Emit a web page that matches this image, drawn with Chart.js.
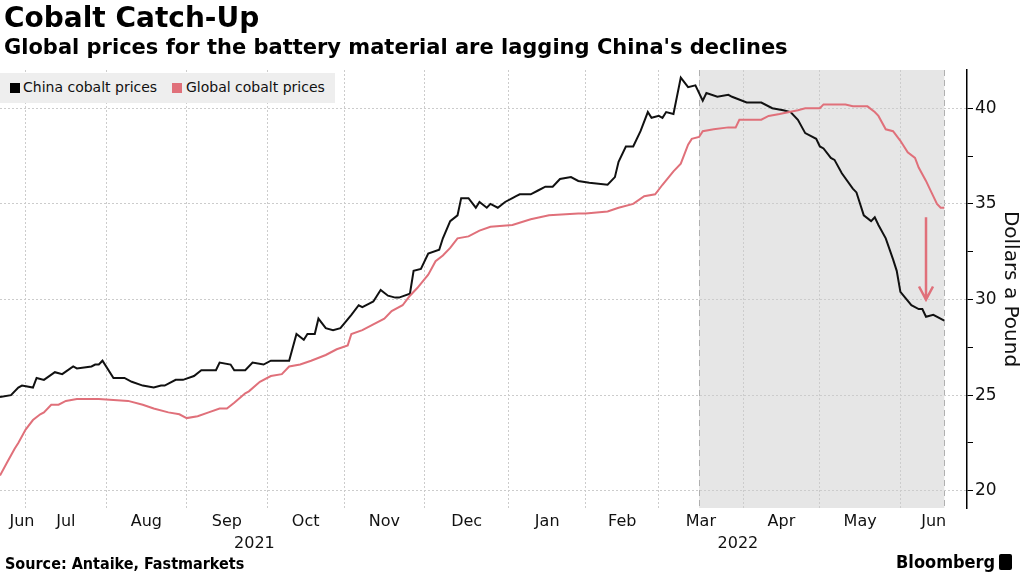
<!DOCTYPE html>
<html lang="en">
<head>
<meta charset="UTF-8">
<title>Cobalt Catch-Up</title>
<style>
    body { margin: 0; background: #fff; font-family: "DejaVu Sans", sans-serif; }
    .page { position: relative; width: 1024px; height: 576px; overflow: hidden; }
    #chart { position: absolute; left: 0; top: 0; }
    .title { position: absolute; left: 4px; top: 1px; font-size: 28px; font-weight: bold; color: #000; white-space: nowrap; }
    .subtitle { position: absolute; left: 4px; top: 35px; font-size: 21px; font-weight: bold; color: #000; white-space: nowrap; }
    .legend { position: absolute; left: 0; top: 73px; width: 335px; height: 30px; background: #eeeeee; font-size: 14px; color: #111; }
    .legend span { position: absolute; top: 6px; white-space: nowrap; }
    .legend i { position: absolute; top: 10px; width: 10px; height: 10px; }
    .source { position: absolute; left: 5px; top: 554px; font-family: "DejaVu Sans Condensed", sans-serif; font-size: 16px; font-weight: bold; }
    .brand { position: absolute; left: 896px; top: 551px; font-family: "DejaVu Sans Condensed", sans-serif; font-size: 18px; font-weight: bold; }
    .brand b { display: inline-block; width: 13px; height: 16px; background: #000; vertical-align: -2px; margin-left: 4px; border-radius: 2px; }
</style>
</head>
<body>
<div class="page">
    <canvas id="chart" width="1024" height="576"></canvas>
    <div class="title">Cobalt Catch-Up</div>
    <div class="subtitle">Global prices for the battery material are lagging China's declines</div>
    <div class="legend">
        <i style="left:10px;background:#000"></i><span style="left:23px">China cobalt prices</span>
        <i style="left:172px;background:#e0707a"></i><span style="left:186px">Global cobalt prices</span>
    </div>
    <div class="source">Source: Antaike, Fastmarkets</div>
    <div class="brand">Bloomberg<b></b></div>
</div>

<script src="https://cdn.jsdelivr.net/npm/chart.js"></script>
<script>
    // weekday axis, like the original (weekends collapsed)
    const axisStart = '2021-06-22';
    const axisEnd = '2022-06-27';

    const chinaDates = ['2021-06-22','2021-06-25','2021-06-29','2021-06-30','2021-07-05','2021-07-06','2021-07-08','2021-07-13','2021-07-15','2021-07-20',
        '2021-07-21','2021-07-27','2021-07-28','2021-07-29','2021-07-30','2021-08-04','2021-08-09','2021-08-11','2021-08-16','2021-08-19',
        '2021-08-23','2021-08-24','2021-08-27','2021-08-31','2021-09-03','2021-09-07','2021-09-13','2021-09-14','2021-09-17','2021-09-20',
        '2021-09-23','2021-09-27','2021-09-30','2021-10-04','2021-10-11','2021-10-13','2021-10-15','2021-10-18','2021-10-20','2021-10-21',
        '2021-10-25','2021-10-27','2021-10-29','2021-11-03','2021-11-05','2021-11-08','2021-11-10','2021-11-11','2021-11-12','2021-11-15',
        '2021-11-17','2021-11-19','2021-11-22','2021-11-25','2021-11-26','2021-11-30','2021-12-02','2021-12-07','2021-12-08','2021-12-10',
        '2021-12-14','2021-12-15','2021-12-17','2021-12-21','2021-12-22','2021-12-24','2021-12-27','2021-12-29','2021-12-31','2022-01-04',
        '2022-01-05','2022-01-06','2022-01-11','2022-01-13','2022-01-17','2022-01-19','2022-01-21','2022-01-26','2022-01-28','2022-02-02',
        '2022-02-09','2022-02-11','2022-02-14','2022-02-16','2022-02-18','2022-02-22','2022-02-24','2022-02-25','2022-03-01','2022-03-02',
        '2022-03-03','2022-03-07','2022-03-09','2022-03-11','2022-03-15','2022-03-17','2022-03-18','2022-03-23','2022-03-28','2022-03-29',
        '2022-04-04','2022-04-08','2022-04-13','2022-04-18','2022-04-20','2022-04-22','2022-04-26','2022-04-29','2022-05-02','2022-05-03',
        '2022-05-05','2022-05-06','2022-05-10','2022-05-13','2022-05-16','2022-05-18','2022-05-20','2022-05-23','2022-05-24','2022-05-26',
        '2022-05-30','2022-05-31','2022-06-01','2022-06-06','2022-06-08','2022-06-09','2022-06-10','2022-06-14','2022-06-17'];
    const chinaValues = [24.9,25.0,25.4,25.5,25.4,25.9,25.8,26.2,26.1,26.5,
        26.4,26.5,26.6,26.6,26.8,25.9,25.9,25.7,25.5,25.4,
        25.5,25.5,25.8,25.8,26.0,26.3,26.3,26.7,26.6,26.3,
        26.3,26.7,26.6,26.8,26.8,28.2,27.9,28.2,28.2,29.0,
        28.5,28.4,28.5,29.2,29.7,29.6,29.8,29.9,30.2,30.5,
        30.2,30.1,30.1,30.3,31.5,31.6,32.4,32.6,33.2,34.1,
        34.4,35.3,35.3,34.8,35.1,34.8,35.0,34.8,35.1,35.3,
        35.4,35.5,35.5,35.7,35.9,35.9,36.3,36.4,36.2,36.1,
        36.0,36.4,37.2,38.0,38.0,38.8,39.8,39.5,39.6,39.5,
        39.8,39.7,41.6,41.1,41.2,40.4,40.8,40.6,40.7,40.6,
        40.3,40.3,40.0,39.9,39.8,39.4,38.7,38.4,38.0,37.9,
        37.4,37.3,36.6,35.8,35.6,34.4,34.1,34.3,33.9,33.2,
        32.1,31.5,30.4,29.7,29.5,29.5,29.1,29.2,28.9];

    const globalDates = ['2021-06-22','2021-06-24','2021-06-28','2021-06-29','2021-07-01','2021-07-05','2021-07-07','2021-07-08','2021-07-12','2021-07-14',
        '2021-07-16','2021-07-21','2021-07-29','2021-08-10','2021-08-16','2021-08-19','2021-08-25','2021-08-30','2021-09-01','2021-09-06',
        '2021-09-09','2021-09-14','2021-09-16','2021-09-20','2021-09-23','2021-09-24','2021-09-29','2021-10-04','2021-10-07','2021-10-11',
        '2021-10-14','2021-10-19','2021-10-25','2021-10-28','2021-11-02','2021-11-03','2021-11-08','2021-11-11','2021-11-16','2021-11-18',
        '2021-11-23','2021-11-25','2021-11-29','2021-12-02','2021-12-06','2021-12-08','2021-12-10','2021-12-14','2021-12-17','2021-12-22',
        '2021-12-27','2022-01-04','2022-01-11','2022-01-18','2022-01-28','2022-02-01','2022-02-09','2022-02-14','2022-02-18','2022-02-23',
        '2022-02-28','2022-03-02','2022-03-07','2022-03-09','2022-03-11','2022-03-14','2022-03-16','2022-03-17','2022-03-22','2022-03-28',
        '2022-03-30','2022-03-31','2022-04-08','2022-04-12','2022-04-15','2022-04-22','2022-04-26','2022-05-02','2022-05-03','2022-05-11',
        '2022-05-13','2022-05-19','2022-05-23','2022-05-24','2022-05-26','2022-05-30','2022-06-01','2022-06-03','2022-06-07','2022-06-08',
        '2022-06-10','2022-06-13','2022-06-15','2022-06-16','2022-06-17'];
    const globalValues = [20.8,21.5,22.2,22.5,23.2,23.7,24.0,24.1,24.5,24.5,
        24.7,24.8,24.8,24.7,24.5,24.3,24.1,24.0,23.8,23.9,
        24.1,24.3,24.3,24.6,25.1,25.2,25.7,26.0,26.1,26.5,
        26.6,26.8,27.1,27.4,27.6,28.2,28.4,28.7,29.0,29.4,
        29.7,30.2,30.6,31.3,32.0,32.3,32.7,33.2,33.3,33.6,
        33.8,33.9,34.2,34.4,34.5,34.5,34.6,34.8,35.0,35.4,
        35.5,36.0,36.7,37.1,38.1,38.4,38.5,38.8,38.9,39.0,
        39.0,39.4,39.4,39.6,39.7,39.9,40.0,40.0,40.2,40.2,
        40.1,40.1,39.8,39.6,38.9,38.8,38.3,37.7,37.4,36.9,
        36.2,35.8,35.0,34.8,34.8];

    const monthStarts = ['2021-07-01','2021-08-01','2021-09-01','2021-10-01','2021-11-01','2021-12-01',
        '2022-01-01','2022-02-01','2022-03-01','2022-04-01','2022-05-01','2022-06-01'];
    const monthLabels = ['Jun','Jul','Aug','Sep','Oct','Nov','Dec','Jan','Feb','Mar','Apr','May','Jun'];
    const yearStarts = ['2022-01-01'];
    const yearLabels = ['2021','2022'];
    const yTicks = [20, 22.5, 25, 27.5, 30, 32.5, 35, 37.5, 40];

    // shaded period and the red arrow
    const shadeFrom = '2022-03-16';
    const shadeTo = '2022-06-17';
    const arrowDate = '2022-06-10';
    const arrowFrom = 34.3;
    const arrowTo = 30.0;

    const pink = '#e0707a';

    function bizIndex(s) {
        const end = new Date(s + 'T00:00:00Z');
        let n = 0;
        for (let t = new Date(axisStart + 'T00:00:00Z'); t < end; t.setUTCDate(t.getUTCDate() + 1)) {
            const wd = t.getUTCDay();
            if (wd !== 0 && wd !== 6) n++;
        }
        return n;
    }

    const xMin = 0;
    const xMax = bizIndex(axisEnd) + 0.2;
    const gridPos = monthStarts.map(bizIndex);

    // month labels sit in the middle of each month span
    const bounds = [xMin].concat(gridPos, [xMax]);
    const monthPos = monthLabels.map((m, i) => (bounds[i] + bounds[i + 1]) / 2);
    monthPos[0] = Math.max(monthPos[0], 6); // keep first label inside
    const yBounds = [xMin].concat(yearStarts.map(bizIndex), [xMax]);
    const yearPos = yearLabels.map((y, i) => (yBounds[i] + yBounds[i + 1]) / 2);

    const toPoints = (dates, vals) => dates.map((d, i) => ({x: bizIndex(d), y: vals[i]}));

    const labelFont = {family: 'DejaVu Sans', size: 16};

    const shadePlugin = {
        id: 'shade',
        beforeDraw(chart) {
            const {ctx, chartArea, scales} = chart;
            const x1 = scales.x.getPixelForValue(bizIndex(shadeFrom));
            const x2 = scales.x.getPixelForValue(bizIndex(shadeTo));
            ctx.save();
            ctx.fillStyle = '#e6e6e6';
            ctx.fillRect(x1, chartArea.top, x2 - x1, chartArea.bottom - chartArea.top);
            ctx.strokeStyle = '#b0b0b0';
            ctx.lineWidth = 1;
            ctx.setLineDash([6, 4]);
            [x1, x2].forEach(x => {
                ctx.beginPath();
                ctx.moveTo(Math.round(x) + 0.5, chartArea.top);
                ctx.lineTo(Math.round(x) + 0.5, chartArea.bottom);
                ctx.stroke();
            });
            ctx.restore();
        },
        afterDatasetsDraw(chart) {
            const {ctx, scales} = chart;
            const x = scales.x.getPixelForValue(bizIndex(arrowDate));
            const y1 = scales.y.getPixelForValue(arrowFrom);
            const y2 = scales.y.getPixelForValue(arrowTo);
            ctx.save();
            ctx.strokeStyle = pink;
            ctx.lineWidth = 2.5;
            ctx.beginPath();
            ctx.moveTo(x, y1);
            ctx.lineTo(x, y2);
            ctx.moveTo(x - 7, y2 - 13);
            ctx.lineTo(x, y2);
            ctx.lineTo(x + 7, y2 - 13);
            ctx.stroke();
            ctx.restore();
        }
    };

    new Chart(document.getElementById('chart'), {
        type: 'line',
        data: {
            datasets: [{
                label: 'Global cobalt prices',
                data: toPoints(globalDates, globalValues),
                borderColor: pink,
                borderWidth: 2,
                pointRadius: 0
            }, {
                label: 'China cobalt prices',
                data: toPoints(chinaDates, chinaValues),
                borderColor: '#111',
                borderWidth: 2,
                pointRadius: 0
            }]
        },
        options: {
            responsive: false,
            animation: false,
            layout: {padding: {top: 70, bottom: 20, left: 0, right: 0}},
            plugins: {legend: {display: false}, tooltip: {enabled: false}},
            scales: {
                x: {
                    type: 'linear', min: xMin, max: xMax, weight: 0,
                    afterBuildTicks: s => { s.ticks = gridPos.map(v => ({value: v})); },
                    afterFit: s => { s.height = 0; },
                    ticks: {display: false},
                    grid: {color: '#cccccc', drawTicks: false},
                    border: {display: false, dash: [2, 2]}
                },
                xm: {
                    type: 'linear', position: 'bottom', min: xMin, max: xMax, weight: 1,
                    afterBuildTicks: s => { s.ticks = monthPos.map(v => ({value: v})); },
                    afterFit: s => { s.height = 24; },
                    ticks: {autoSkip: false, maxRotation: 0, padding: 4, color: '#111', font: labelFont,
                        callback: (v, i) => monthLabels[i]},
                    grid: {display: false, drawTicks: false},
                    border: {display: false}
                },
                xy: {
                    type: 'linear', position: 'bottom', min: xMin, max: xMax, weight: 2,
                    afterBuildTicks: s => { s.ticks = yearPos.map(v => ({value: v})); },
                    afterFit: s => { s.height = 24; },
                    ticks: {autoSkip: false, maxRotation: 0, padding: 2, color: '#111', font: labelFont,
                        callback: (v, i) => yearLabels[i]},
                    grid: {display: false, drawTicks: false},
                    border: {display: false}
                },
                y: {
                    position: 'right', min: 19.1, max: 42,
                    afterBuildTicks: s => { s.ticks = yTicks.map(v => ({value: v})); },
                    afterFit: s => { s.width = 57; },
                    ticks: {autoSkip: false, padding: 2, color: '#111', font: {family: 'DejaVu Sans', size: 17},
                        callback: v => (v % 5 === 0 ? String(v) : '')},
                    grid: {
                        color: c => (c.tick && c.tick.value % 5 === 0 ? '#cccccc' : 'rgba(0,0,0,0)'),
                        tickColor: '#000', tickLength: 6
                    },
                    border: {display: true, color: '#000', width: 1.5, dash: [2, 2]},
                    title: {display: true, text: 'Dollars a Pound', color: '#111',
                        font: {family: 'DejaVu Sans', size: 20}, padding: {top: 2, bottom: 2}}
                }
            }
        },
        plugins: [shadePlugin]
    });
</script>
</body>
</html>
